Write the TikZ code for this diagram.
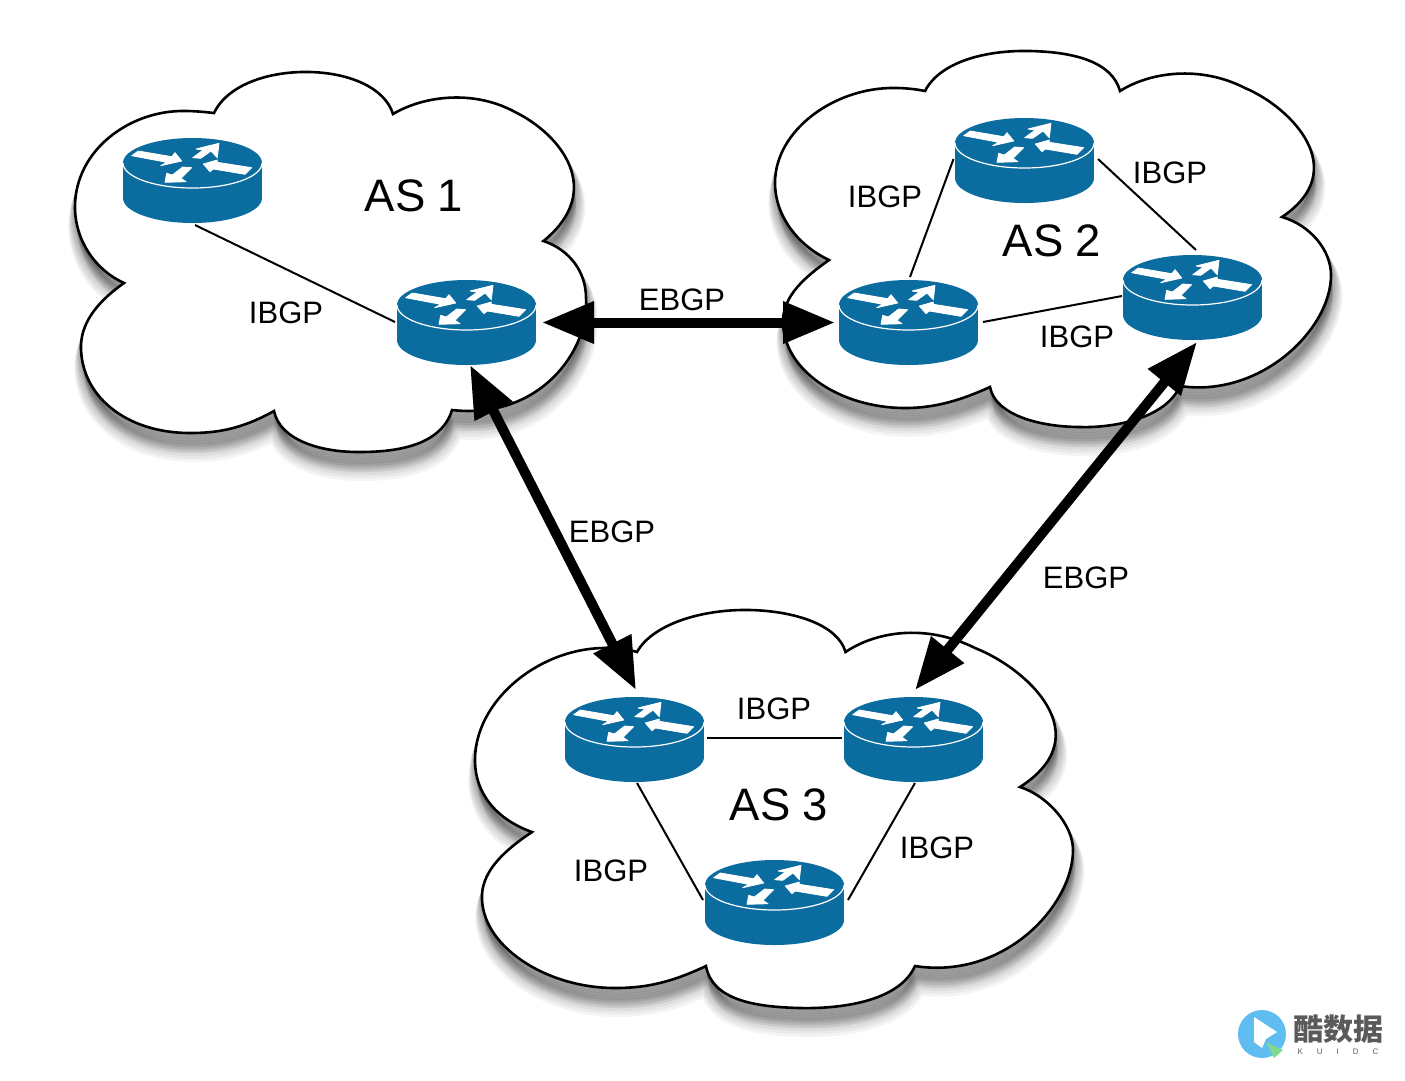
\documentclass[tikz,border=0pt]{standalone}
\usepackage{fontspec}
\setmainfont{Liberation Sans}
\newfontfamily\cjkfont{Noto Sans CJK SC}
\usetikzlibrary{arrows.meta,calc}
\definecolor{routerblue}{HTML}{0B6C9F}
\definecolor{markgrey}{HTML}{5A5A5A}
\definecolor{markblue}{HTML}{5FBDF2}
\definecolor{markgreen}{HTML}{7FD98F}
\tikzset{
  routerbox/.style={rectangle,minimum width=139pt,minimum height=85pt,inner sep=0pt},
  thinlink/.style={draw=black,line width=2pt},
  ebgplink/.style={draw=black,line width=10pt,{Triangle[length=52pt,width=40pt]}-{Triangle[length=52pt,width=40pt]}},
  smalllabel/.style={inner sep=0pt,yshift=-1pt,font=\fontsize{31}{36}\selectfont},
  biglabel/.style={inner sep=0pt,font=\fontsize{45.5}{52}\selectfont},
  glyph/.style={fill=white,draw=white,line width=0.8pt,line join=round}
}
\newcommand\cloudone{(214,113) .. controls (228,84) and (270,71) .. (310,72) .. controls (350,73) and (385,88) .. (393,114)
 .. controls (425,95) and (475,90) .. (515,112) .. controls (560,134) and (606,190) .. (543.5,241)
 .. controls (570,250) and (586,272) .. (586,298) .. controls (590,350) and (540,420) .. (452,410)
 .. controls (440,450) and (385,452) .. (358,452) .. controls (320,452) and (280,440) .. (274,411)
 .. controls (240,430) and (215,433) .. (190,433) .. controls (125,433) and (80,395) .. (81,345) .. controls (82,320) and (100,300) .. (124,283)
 .. controls (95,270) and (75,240) .. (75,207) .. controls (75,150) and (130,110) .. (185,111) .. controls (195,111) and (205,112) .. (214,113)}
\newcommand\cloudtwo{(925,91) .. controls (940,62) and (985,50) .. (1030,51) .. controls (1075,52) and (1112,62) .. (1120,91)
 .. controls (1150,72) and (1200,65) .. (1245,88) .. controls (1292,108) and (1352,170) .. (1282,217)
 .. controls (1310,225) and (1331,250) .. (1331,275) .. controls (1331,330) and (1260,398) .. (1180,386)
 .. controls (1165,420) and (1110,428) .. (1080,427) .. controls (1040,427) and (995,415) .. (990,387)
 .. controls (955,403) and (930,408) .. (905,408) .. controls (840,408) and (782,370) .. (783,320) .. controls (784,295) and (805,277) .. (829,260)
 .. controls (797,245) and (775,215) .. (775,183) .. controls (775,130) and (835,87) .. (895,88) .. controls (905,88) and (915,89) .. (925,91)}
\newcommand\cloudthree{(637,652) .. controls (652,625) and (700,609) .. (750,610) .. controls (795,611) and (838,625) .. (845.5,652)
 .. controls (875,632) and (925,623) .. (975,648) .. controls (1026,668) and (1101,735) .. (1020,787)
 .. controls (1048,796) and (1073,825) .. (1073,850) .. controls (1073,905) and (1005,980) .. (915,966)
 .. controls (900,1000) and (845,1009) .. (800,1008) .. controls (755,1007) and (712,1000) .. (706,966)
 .. controls (670,983) and (645,988) .. (615,988) .. controls (545,988) and (480,945) .. (482,895) .. controls (483,870) and (505,850) .. (532,832)
 .. controls (498,820) and (475,795) .. (475,760) .. controls (475,700) and (540,648) .. (605,648) .. controls (617,648) and (627,649) .. (637,652)}
\newcommand\cloudshadow[1]{%
  \foreach \s in {2,4,...,20}{%
    \pgfmathsetmacro\wid{\s*0.9}%
    \pgfmathsetmacro\dx{\s*0.12}%
    \draw[black,fill=black,opacity=.045,line width=\wid pt,line join=round,shift={(\dx,\s)}] #1 -- cycle;}%
}
\newcommand\cloudbody[1]{\draw[fill=white,draw=black,line width=2.6pt,line join=miter] #1 -- cycle;}
\newcommand\routerat[3]{%
  \node[routerbox] (#1) at (#2,#3) {};
  \begin{scope}[shift={(#2,#3)}]
    \fill[routerblue] (-69.5,-17.5) rectangle (69.5,17.5);
    \fill[routerblue] (0,17.5) circle[x radius=69.5pt,y radius=25pt];
    \fill[routerblue] (0,-17.5) circle[x radius=69.5pt,y radius=25pt];
    \draw[white,line width=1.2pt] (-69.5,-17.5) .. controls (-69.5,-3.7) and (-38.4,7.5) .. (0,7.5) .. controls (38.4,7.5) and (69.5,-3.7) .. (69.5,-17.5);
    \path[glyph] (-54.2,-29.5)--(-20.8,-23.8)--(-17.5,-27.8)--(-10.8,-19.5)--(-31.8,-14.8)--(-25.8,-18.2)--(-60.8,-24.8)--cycle;
    \path[glyph] (26.5,-37.2)--(3.5,-31.5)--(10.8,-30.5)--(0.2,-22.8)--(8.2,-22.2)--(18.5,-29.5)--(24.8,-22.8)--cycle;
    \path[glyph] (10.8,-16.5)--(24.8,-20.5)--(24.8,-18.2)--(59.2,-12.8)--(52.5,-6.2)--(20.8,-11.5)--(17.5,-8.8)--cycle;
    \path[glyph] (-27.5,1.8)--(-25.8,-7.2)--(-20.2,-5.5)--(-9.8,-13.5)--(-0.8,-12.8)--(-11.5,-2.2)--(-6.5,1.2)--cycle;
  \end{scope}%
}
\begin{document}
\begin{tikzpicture}[x=1pt,y=-1pt]
\useasboundingbox[fill=white] (0,0) rectangle (1405,1080);
\cloudshadow{\cloudone}
\cloudshadow{\cloudtwo}
\cloudshadow{\cloudthree}
\cloudbody{\cloudone}
\cloudbody{\cloudtwo}
\cloudbody{\cloudthree}
\routerat{ra}{192.5}{180.5}
\routerat{rb}{466.5}{322.5}
\routerat{rc}{1024.5}{160.5}
\routerat{rd}{908.5}{322.5}
\routerat{re}{1192.5}{297.5}
\routerat{rf}{634.5}{739.5}
\routerat{rg}{913.5}{739.5}
\routerat{rh}{774.5}{902.5}
% IBGP links
\draw[thinlink] ([shift={(2.5,44.5)}]ra.center) -- ([shift={(-71.5,-0.5)}]rb.center);
\draw[thinlink] ([shift={(1.5,-45.5)}]rd.center) -- ([shift={(-71,-1.5)}]rc.center);
\draw[thinlink] ([shift={(73.5,-1.5)}]rc.center) -- ([shift={(3.5,-47.5)}]re.center);
\draw[thinlink] ([shift={(74.5,-0.5)}]rd.center) -- ([shift={(-70.5,-1.5)}]re.center);
\draw[thinlink] ([shift={(72.5,-2)}]rf.center) -- ([shift={(-71.5,-2)}]rg.center);
\draw[thinlink] ([shift={(2.5,43.5)}]rf.center) -- ([shift={(-71.5,-2.5)}]rh.center);
\draw[thinlink] ([shift={(1.5,43.5)}]rg.center) -- ([shift={(73.5,-2.5)}]rh.center);
% EBGP links
\draw[ebgplink] ([shift={(75.5,0)}]rb.center) -- ([shift={(-73.5,0)}]rd.center);
\draw[ebgplink] ([shift={(3.5,42.5)}]rb.center) -- ([shift={(1.5,-49.5)}]rf.center);
\draw[ebgplink] ([shift={(4.5,44.5)}]re.center) -- ([shift={(1.5,-49.5)}]rg.center);
% labels
\node[biglabel] (as1) at (414,196) {AS 1};
\node[biglabel] (as2) at (1052,241) {AS 2};
\node[biglabel] (as3) at (779,805) {AS 3};
\node[smalllabel] (l1) at (286,312) {IBGP};
\node[smalllabel] (l2) at (885,196) {IBGP};
\node[smalllabel] (l3) at (1170,172) {IBGP};
\node[smalllabel] (l4) at (1077,336) {IBGP};
\node[smalllabel] (l5) at (774,708) {IBGP};
\node[smalllabel] (l6) at (611,870) {IBGP};
\node[smalllabel] (l7) at (937,847) {IBGP};
\node[smalllabel] (e1) at (682,299) {EBGP};
\node[smalllabel] (e2) at (612,531) {EBGP};
\node[smalllabel] (e3) at (1086,577) {EBGP};
% watermark
\fill[markblue] (1262,1034) circle[radius=24pt];
\fill[white] (1254,1017) -- (1277,1032) -- (1266,1039) -- (1262,1048) -- (1254,1042) -- cycle;
\fill[markgreen] (1266,1042) -- (1283,1050) -- (1274,1058) -- cycle;
\node[inner sep=0pt,text=markgrey] (wm) at (1338,1029) {\cjkfont\bfseries\fontsize{30}{34}\selectfont 酷数据};
\node[inner sep=0pt,text=markgrey] (wk) at (1338,1052) {\fontsize{8}{10}\selectfont K\hspace{14pt}U\hspace{14pt}I\hspace{14pt}D\hspace{14pt}C};
\end{tikzpicture}
\end{document}
